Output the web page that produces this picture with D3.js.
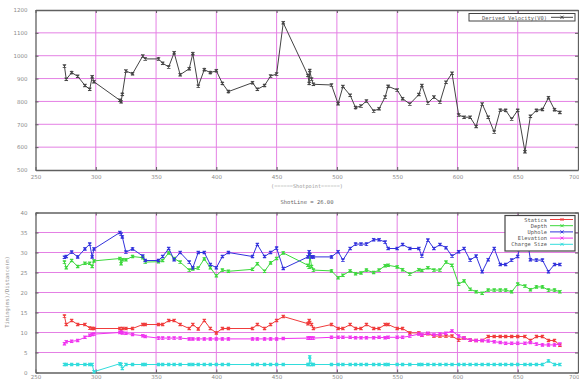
<!DOCTYPE html>
<html><head><meta charset="utf-8">
<script src="https://cdn.jsdelivr.net/npm/d3@7"></script>
<style>body{margin:0;background:#fff}svg{display:block}</style>
</head><body>
<script>
const shotpoints = [274,275.5,280,285,291,295,297,298.5,320,321,322,325,330.5,339,341,352,355.5,360.5,365,370,377.5,380.5,385,390,395,400,405,410,430,434,440,445,450,455.5,476,477,477.5,479,480.5,495.5,501,505,511,515.5,520,524.5,530.5,535,540,542.5,550,554.5,560.5,568,570.5,575.5,580.5,585.5,590.5,595.5,601,605.5,610.5,615.5,620.5,625.5,630.5,635.5,640,645,650,656,660.5,665.5,670.5,675.5,680.5,685];
const velocity = [955,897,926,910,870,853,908,886,805,798,831,933,921,999,986,986,967,951,1013,917,943,1009,867,939,926,934,879,843,882,853,870,911,920,1144,914,879,935,898,875,872,790,865,827,773,780,802,758,768,819,866,850,812,789,830,870,793,819,797,884,923,741,731,731,690,789,731,666,762,761,723,761,580,735,761,765,816,764,752];
const statics = [14.1,12,13,12,12,11.1,11,11,11,10.5,11,11,11,12,12,12,12,13,13,12,11,12,10.9,13,11,9.9,11,11,11,12,11,12,13,14,12.2,13,12.5,12,11,12,11,11,12,11,11,12,11,11,12,12,11,11,9.9,9.9,9.3,9.7,9.1,9.1,9.1,9.1,8.1,8.6,8.1,8,8,9,9,9,9,9,9,9,8,9,9,8,8,6.8];
const depth = [27.6,26.2,28,26.5,27.3,27.3,26.5,27.9,28.5,27.2,28.2,28.2,29,28.7,27.6,27.7,28,29.9,28.5,27.6,25.6,25.9,26.1,28.4,26.2,24.2,25.6,25.3,25.8,27.2,25.3,27.4,28.5,29.9,26.8,26.3,29.5,26.5,25.6,25.4,23.7,24.3,25.4,24.7,24.9,25.6,25,25.6,26.7,26.8,26.4,25.7,24.6,25.7,25.5,26.2,25.6,25.6,27.6,26.8,22.1,22.9,20.8,20.2,19.8,20.6,20.6,20.6,20.6,20.2,22.1,21.6,20.7,21.4,21.4,20.6,20.6,20.2];
const uphole = [28.8,29,30.1,28.9,30.9,32.1,28.9,30.9,35,34.6,33.9,30.1,30.9,29.1,28,28,29,31,28.2,30,27.6,26.2,30,30,27,26.2,29,30,29,32,29,30,31.1,26,28.9,30.2,29.5,28.9,28.9,28.9,30.2,28.1,31,32.1,32.1,32.1,33.2,33.2,32.6,31,31,32,31,31,29.1,33.1,31,32,31.2,29.1,30.2,31,28.1,29.1,25.2,28.2,31,27,27,28.1,29,37.2,28.2,28.1,28.1,25.2,27,27];
const elevation = [7.2,7.7,7.8,8,8.8,9.3,9.5,9.6,10,10.1,9.9,9.8,9.5,9.2,9,8.6,8.6,8.6,8.6,8.6,8.4,8.4,8.4,8.4,8.4,8.4,8.4,8.4,8.4,8.4,8.4,8.4,8.4,8.5,8.6,8.6,8.6,8.6,8.6,8.8,8.8,8.8,8.8,8.7,8.7,8.7,8.7,8.8,8.7,8.8,8.8,8.8,9.1,9.6,9.4,9.8,9.4,9.6,9.8,10.4,9.1,8.6,8.1,8,8,7.9,7.7,7.5,7.3,7.3,7.3,7.3,7.5,7.1,6.9,6.9,6.9,7.1];
const chargeSize = [2,2,2,2,2,2,2,0.2,2.2,2,1,2,2,2,2,2,2,2,2,2,2,2,2,2,2,2,2,2,2,2,2,2,2,2,2,2,3.9,2,2,2,2,2,2,2,2,2,2,2,2,2,2,2,2,2,2,2,2,2,2,2,2,2,2,2,2,2,2,2,2,2,2,2,2,2,2,2.9,2,2];
const xTicks = [250,300,350,400,450,500,550,600,650,700];
const topYTicks = [500,600,700,800,900,1000,1100,1200];
const botYTicks = [0,5,10,15,20,25,30,35,40];
const bottomSeries = [
  {name:"Statics", values:statics, color:"#f03c3c"},
  {name:"Depth", values:depth, color:"#3cd83c"},
  {name:"Uphole", values:uphole, color:"#3232dc"},
  {name:"Elevation", values:elevation, color:"#f032f0"},
  {name:"Charge Size", values:chargeSize, color:"#32dcdc"}
];
const topTitle = "Derived Velocity(V0)";
const xLabel = "(======Shotpoint======)";
const shotLine = "ShotLine = 26.00";
const yLabel = "Timing(ms)/Distance(m)";

const W=579,H=381;
const svg=d3.select("body").append("svg").attr("width",W).attr("height",H);
const gridColor="#e480e4", borderColor="#606060", textColor="#8a8a8a";
const mono="'DejaVu Sans Mono', monospace";

const x = d3.scaleLinear().domain([250,700]).range([35.5,578]);
const yTop = d3.scaleLinear().domain([500,1200]).range([170,10]);
const yBot = d3.scaleLinear().domain([0,40]).range([372.5,212.5]);

function panel(y, yTicks, xPad){
  const g=svg.append("g");
  const [x0,x1]=x.range(), [y0,y1]=y.range();
  g.selectAll(".gv").data(xTicks.slice(1,-1)).enter().append("line")
    .attr("x1",d=>x(d)).attr("x2",d=>x(d)).attr("y1",y1).attr("y2",y0)
    .attr("stroke",gridColor).attr("stroke-width",1);
  g.selectAll(".gh").data(yTicks.slice(1,-1)).enter().append("line")
    .attr("x1",x0).attr("x2",x1).attr("y1",d=>y(d)).attr("y2",d=>y(d))
    .attr("stroke",gridColor).attr("stroke-width",1);
  const ax=(gen,tr)=>{const a=g.append("g").attr("transform",tr).call(gen);
    a.select(".domain").attr("stroke",borderColor).attr("stroke-width",1.3);
    a.selectAll(".tick line").attr("stroke",borderColor);
    a.selectAll("text").attr("fill",textColor).attr("font-size",5.5).attr("font-family","'DejaVu Sans',sans-serif");
    return a;};
  const b=ax(d3.axisBottom(x).tickValues(xTicks).tickSize(-3).tickSizeOuter(0).tickPadding(xPad).tickFormat(d3.format("d")),`translate(0,${y0})`);
  b.selectAll(".tick text").filter(d=>d===700).attr("text-anchor","end").attr("dx",1);
  ax(d3.axisTop(x).tickValues(xTicks).tickSize(-3).tickSizeOuter(0).tickFormat(""),`translate(0,${y1})`);
  ax(d3.axisLeft(y).tickValues(yTicks).tickSize(-3).tickSizeOuter(0).tickPadding(8).tickFormat(d3.format("d")),`translate(${x0},0)`);
  ax(d3.axisRight(y).tickValues(yTicks).tickSize(-3).tickSizeOuter(0).tickFormat(""),`translate(${x1},0)`);
  return g;
}

function series(g, y, vals, color){
  const pts=shotpoints.map((s,i)=>[s,vals[i]]);
  g.append("path").datum(pts).attr("fill","none").attr("stroke",color).attr("stroke-width",1)
    .attr("d",d3.line().x(d=>x(d[0])).y(d=>y(d[1])));
  g.selectAll(null).data(pts).enter().append("path")
    .attr("d",d=>{const cx=x(d[0]),cy=y(d[1]);return `M${cx-1.6},${cy-1.6}L${cx+1.6},${cy+1.6}M${cx+1.6},${cy-1.6}L${cx-1.6},${cy+1.6}M${cx},${cy-1.8}V${cy+1.8}`;})
    .attr("stroke",color).attr("stroke-width",1.1).attr("fill","none");
}

const gTop=panel(yTop, topYTicks, 5);
series(gTop, yTop, velocity, "#444");
const lg=svg.append("g");
lg.append("rect").attr("x",469).attr("y",13.5).attr("width",106).attr("height",7.5).attr("fill","#fff").attr("stroke","#444").attr("stroke-width",1);
lg.append("text").attr("x",547).attr("y",19.5).attr("text-anchor","end").attr("font-family",mono).attr("font-size",5.4).attr("fill","#555").text(topTitle);
lg.append("line").attr("x1",551).attr("x2",573).attr("y1",17.3).attr("y2",17.3).attr("stroke","#444");
lg.append("path").attr("d","M560.5,15.7L563.5,18.9M563.5,15.7L560.5,18.9").attr("stroke","#444");

svg.append("text").attr("x",307).attr("y",188).attr("text-anchor","middle").attr("font-family",mono).attr("font-size",5.2).attr("fill","#999").text(xLabel);
svg.append("text").attr("x",307).attr("y",204).attr("text-anchor","middle").attr("font-family",mono).attr("font-size",5.5).attr("fill","#666").text(shotLine);

const gBot=panel(yBot, botYTicks, 2.5);
bottomSeries.forEach(s=>series(gBot,yBot,s.values,s.color));
svg.append("text").attr("transform","translate(9,292) rotate(-90)").attr("text-anchor","middle")
  .attr("font-family",mono).attr("font-size",5.4).attr("fill","#999").text(yLabel);

const lb=svg.append("g");
lb.append("rect").attr("x",505).attr("y",215.5).attr("width",70).attr("height",35.5).attr("fill","#fff").attr("stroke","#444").attr("stroke-width",1.2);
bottomSeries.forEach((s,i)=>{
  const yy=219.5+i*6.2;
  lb.append("text").attr("x",547).attr("y",yy+2).attr("text-anchor","end").attr("font-family",mono).attr("font-size",5.4).attr("fill","#555").text(s.name);
  lb.append("line").attr("x1",550).attr("x2",573).attr("y1",yy).attr("y2",yy).attr("stroke",s.color);
  lb.append("path").attr("d",`M560.5,${yy-1.5}L563.5,${yy+1.5}M563.5,${yy-1.5}L560.5,${yy+1.5}`).attr("stroke",s.color);
});
</script>
</body></html>
